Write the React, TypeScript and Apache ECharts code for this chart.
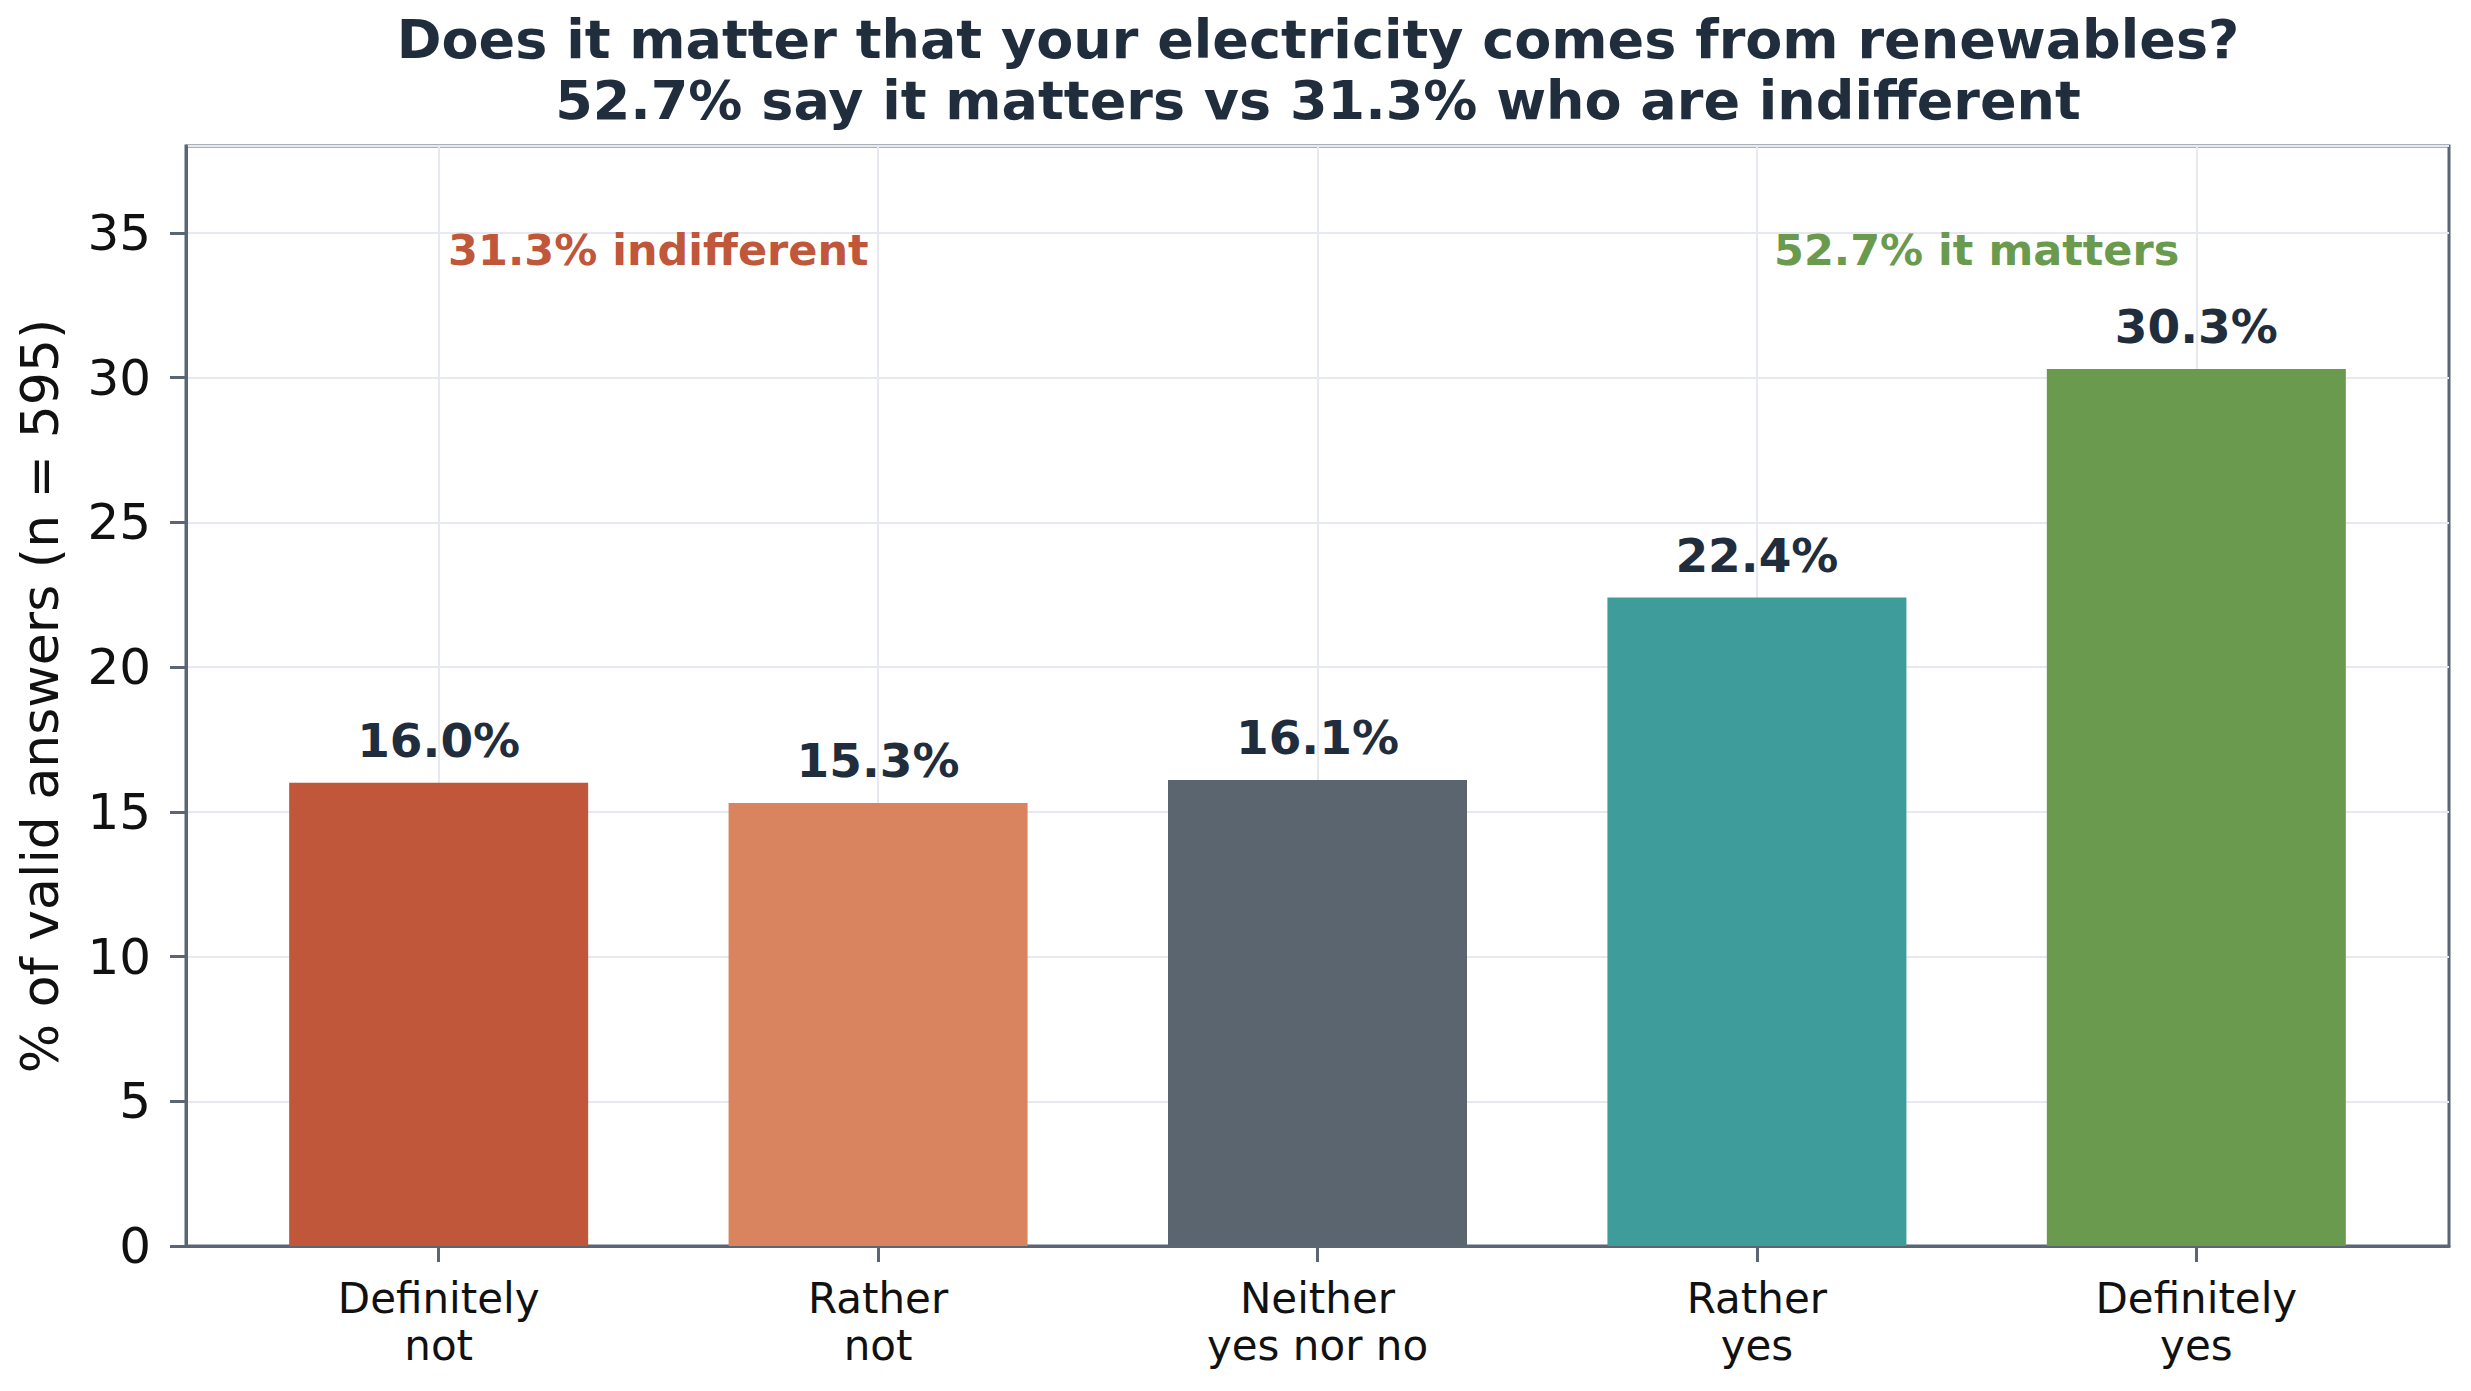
import React, { useEffect, useRef } from "react";
import * as echarts from "echarts";

const CATEGORIES = ["Definitely\nnot", "Rather\nnot", "Neither\nyes nor no", "Rather\nyes", "Definitely\nyes"];
const VALUES = [16.0, 15.3, 16.1, 22.4, 30.3];
const BAR_COLORS = ["#c0563a", "#d9835f", "#5b6570", "#3e9c9b", "#6a9a4d"];
const Y_TICK_STEP = 5;
const Y_MAX = 38;
const N_ANSWERS = 595;
const INDIFFERENT_IDX = [0, 1];
const MATTERS_IDX = [3, 4];
const ANNOTATION_Y = 34.42;

export default function App() {
  const ref = useRef<HTMLDivElement>(null);
  useEffect(() => {
    document.body.style.margin = "0";
    const chart = echarts.init(ref.current!, null, { renderer: "svg" });
    const sum = (idx: number[]) => idx.reduce((s, i) => s + VALUES[i], 0);
    const indiff = sum(INDIFFERENT_IDX).toFixed(1);
    const matters = sum(MATTERS_IDX).toFixed(1);
    const mid = (idx: number[]) => idx.reduce((s, i) => s + i, 0) / idx.length;
    const frame = "#5b6573";
    const gridC = "#e6e9ef";
    const font = "DejaVu Sans";
    const idx = CATEGORIES.map((_, i) => i);

    chart.setOption({
      animation: false,
      backgroundColor: "#ffffff",
      title: {
        text: `Does it matter that your electricity comes from renewables?\n${matters}% say it matters vs ${indiff}% who are indifferent`,
        left: 1318,
        top: 9,
        textAlign: "center",
        padding: 0,
        textStyle: { fontFamily: font, fontWeight: "bold", fontSize: 54, lineHeight: 61, color: "#1f2d3d" },
      },
      grid: { left: 186, right: 22, top: 146, bottom: 145, show: true, borderColor: frame, borderWidth: 3, backgroundColor: "transparent" },
      xAxis: {
        type: "value",
        min: -0.575,
        max: CATEGORIES.length - 1 + 0.575,
        splitLine: { show: false },
        axisLine: { show: true, onZero: false, lineStyle: { color: frame, width: 3 } },
        axisTick: { show: true, customValues: idx, length: 16, lineStyle: { color: frame, width: 3 } },
        axisLabel: {
          show: true,
          customValues: idx,
          formatter: (v: number) => CATEGORIES[Math.round(v)] ?? "",
          margin: 29,
          fontFamily: font,
          fontSize: 42,
          lineHeight: 47,
          color: "#111111",
        },
      },
      yAxis: {
        type: "value",
        min: 0,
        max: Y_MAX,
        interval: Y_TICK_STEP,
        name: `% of valid answers (n = ${N_ANSWERS})`,
        nameLocation: "middle",
        nameGap: 120,
        nameTextStyle: { fontFamily: font, fontSize: 52, color: "#111111" },
        axisLine: { show: true, onZero: false, lineStyle: { color: frame, width: 3 } },
        axisTick: { show: true, length: 16, lineStyle: { color: frame, width: 3 } },
        axisLabel: { showMaxLabel: false, margin: 35, fontFamily: font, fontSize: 50, color: "#111111" },
        splitLine: { show: true, lineStyle: { color: gridC, width: 2 } },
      },
      series: [
        {
          type: "scatter",
          z: 1,
          symbolSize: 0,
          silent: true,
          itemStyle: { opacity: 1 },
          data: [
            { value: [mid(INDIFFERENT_IDX), ANNOTATION_Y], label: { formatter: `${indiff}% indifferent`, color: BAR_COLORS[0] } },
            { value: [mid(MATTERS_IDX), ANNOTATION_Y], label: { formatter: `${matters}% it matters`, color: BAR_COLORS[4] } },
          ],
          label: { show: true, position: "inside", opacity: 1, fontFamily: font, fontWeight: "bold", fontSize: 43 },
          markLine: {
            silent: true,
            z: 1,
            symbol: "none",
            label: { show: false },
            lineStyle: { color: gridC, width: 2, type: "solid" },
            data: idx.map((i) => ({ xAxis: i })),
          },
        },
        {
          type: "bar",
          z: 3,
          barWidth: 299,
          data: VALUES.map((v, i) => ({ value: [i, v], itemStyle: { color: BAR_COLORS[i] } })),
          label: {
            show: true,
            position: "top",
            distance: 19,
            formatter: (p: any) => `${p.value[1].toFixed(1)}%`,
            fontFamily: font,
            fontWeight: "bold",
            fontSize: 47,
            color: "#1f2d3d",
          },
        },
      ],
    });
    return () => chart.dispose();
  }, []);
  return <div ref={ref} style={{ width: "2471px", height: "1391px" }} />;
}
